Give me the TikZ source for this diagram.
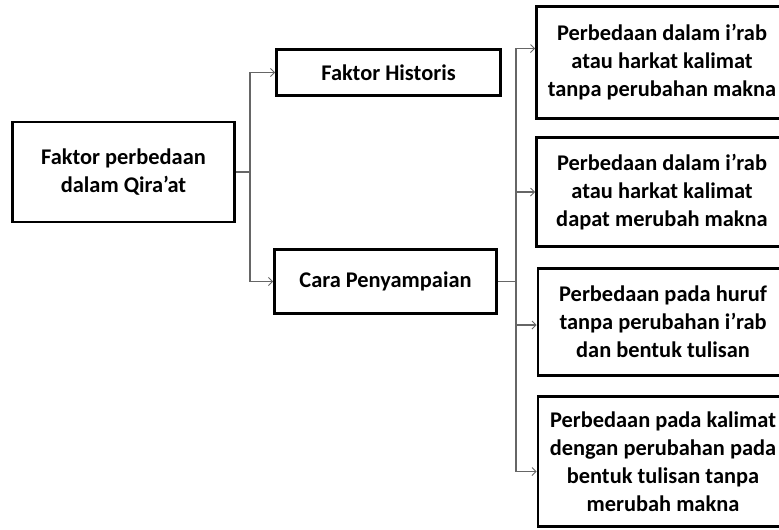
\documentclass[tikz,border=0pt]{standalone}
\usepackage{fontspec}
\setmainfont{Carlito}
\usetikzlibrary{arrows.meta}

\begin{document}
\begin{tikzpicture}[x=1pt,y=-1pt,
		box/.style={draw, line width=2.6pt, rectangle, align=center, inner sep=0pt,
			font=\bfseries\fontsize{22.4}{28}\selectfont},
		line/.style={draw=black!60, line width=1.4pt},
		link/.style={line, -{Straight Barb[length=4pt,width=8pt,line width=1pt]}}]
		\useasboundingbox (0,0) rectangle (779,530);
		\clip (0,0) rectangle (779,530);
		\node[box, minimum width=222pt, minimum height=100pt] (faktor) at (123.5,172) {Faktor perbedaan\\dalam Qira’at};
		\node[box, minimum width=224pt, minimum height=46pt] (historis) at (388.5,72.5) {Faktor Historis};
		\node[box, minimum width=222pt, minimum height=64pt] (cara) at (385.5,281.5) {Cara Penyampaian};
		\node[box, minimum width=251pt, minimum height=112pt] (beda1) at (662,62.5) {Perbedaan dalam i’rab\\atau harkat kalimat\\tanpa perubahan makna};
		\node[box, minimum width=251pt, minimum height=109pt] (beda2) at (662,192) {Perbedaan dalam i’rab\\atau harkat kalimat\\dapat merubah makna};
		\node[box, minimum width=250pt, minimum height=107pt] (beda3) at (663,322) {Perbedaan pada huruf\\tanpa perubahan i’rab\\dan bentuk tulisan};
		\node[box, minimum width=250pt, minimum height=130pt] (beda4) at (663,461.5) {Perbedaan pada kalimat\\dengan perubahan pada\\bentuk tulisan tanpa\\merubah makna};
		\draw[line] (faktor.east) -- ++(14,0) coordinate (j1);
		\draw[link] (j1) |- (historis.west);
		\draw[link] (j1) |- (cara.west);
		\draw[line] (cara.east) -- ++(18,0) coordinate (j2);
		\draw[link] (j2) |- ([yshift=14pt]beda1.west);
		\draw[link] (j2) |- (beda2.west);
		\draw[link] (j2) |- ([yshift=-3pt]beda3.west);
		\draw[link] (j2) |- ([yshift=-10pt]beda4.west);
	\end{tikzpicture}
\end{document}
